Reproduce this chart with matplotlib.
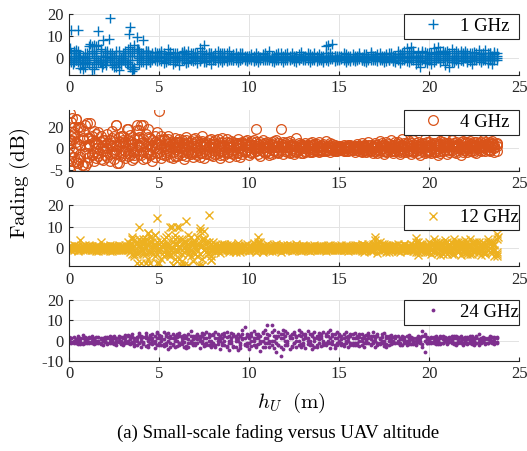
import matplotlib.pyplot as plt

plt.rcParams['font.family'] = ['Liberation Serif', 'DejaVu Serif']
plt.rcParams['mathtext.fontset'] = 'cm'

# altitude samples (m), 8 per metre
altitude = [
    0.0, 0.12, 0.25, 0.38, 0.5, 0.62, 0.75, 0.88,
    1.0, 1.12, 1.25, 1.38, 1.5, 1.62, 1.75, 1.88,
    2.0, 2.12, 2.25, 2.38, 2.5, 2.62, 2.75, 2.88,
    3.0, 3.12, 3.25, 3.38, 3.5, 3.62, 3.75, 3.88,
    4.0, 4.12, 4.25, 4.38, 4.5, 4.62, 4.75, 4.88,
    5.0, 5.12, 5.25, 5.38, 5.5, 5.62, 5.75, 5.88,
    6.0, 6.12, 6.25, 6.38, 6.5, 6.62, 6.75, 6.88,
    7.0, 7.12, 7.25, 7.38, 7.5, 7.62, 7.75, 7.88,
    8.0, 8.12, 8.25, 8.38, 8.5, 8.62, 8.75, 8.88,
    9.0, 9.12, 9.25, 9.38, 9.5, 9.62, 9.75, 9.88,
    10.0, 10.12, 10.25, 10.38, 10.5, 10.62, 10.75, 10.88,
    11.0, 11.12, 11.25, 11.38, 11.5, 11.62, 11.75, 11.88,
    12.0, 12.12, 12.25, 12.38, 12.5, 12.62, 12.75, 12.88,
    13.0, 13.12, 13.25, 13.38, 13.5, 13.62, 13.75, 13.88,
    14.0, 14.12, 14.25, 14.38, 14.5, 14.62, 14.75, 14.88,
    15.0, 15.12, 15.25, 15.38, 15.5, 15.62, 15.75, 15.88,
    16.0, 16.12, 16.25, 16.38, 16.5, 16.62, 16.75, 16.88,
    17.0, 17.12, 17.25, 17.38, 17.5, 17.62, 17.75, 17.88,
    18.0, 18.12, 18.25, 18.38, 18.5, 18.62, 18.75, 18.88,
    19.0, 19.12, 19.25, 19.38, 19.5, 19.62, 19.75, 19.88,
    20.0, 20.12, 20.25, 20.38, 20.5, 20.62, 20.75, 20.88,
    21.0, 21.12, 21.25, 21.38, 21.5, 21.62, 21.75, 21.88,
    22.0, 22.12, 22.25, 22.38, 22.5, 22.62, 22.75, 22.88,
    23.0, 23.12, 23.25, 23.38, 23.5, 23.62, 23.75,
]

# 1 GHz (four passes over the same altitudes)
fad_1ghz_a = [
    -2, 12.7, 1, 3.6, 12.7, -4.5, -2, 0,
    2, 5.5, -7.7, 6, -3, 12.3, 3, 8.2,
    0.5, 3, 18, -2, -3, -4, -5.5, 0,
    -1, 1, 4, 14.2, -6.2, 6, 9.7, -3,
    2, 8.2, -3, 3, -2, 1, 2.5, -1.5,
    0.5, 3, -2.5, 1, 4, -1, -3, 2,
    0, -3.5, 2.5, 1, -2, 3, -1, 0.5,
    2, -2.5, 4.5, 1, 6, -1.5, 2, -3,
    1, -1, 3, 0, -2, 2, -1.5, 3,
    -1, 1.5, 0, -2, 2, -0.5, 1, -1.5,
    1, -1, 0.5, 2, -2, 0, 1.5, -1,
    0, 3, -1.5, 1, -1, 2, 0.5, -2,
    1.5, -1, 0, 2, -1.5, 1, -0.5, 2.5,
    -1, 0.5, 2, -2, 1, 0, -1.5, 1.5,
    0.5, -2, 2, 6, 1, 6.3, -1.5, 1,
    -1, 0.5, 2, -2, 1, -0.5, 1.5, -1.5,
    0, 2, -1, 1, -2, 0.5, 2.5, -1,
    1, -1.5, 2, 0, -2, 1.5, -0.5, 2,
    -1.5, 1, 3, -2.5, 0.5, 2, 4.5, -2,
    5, 1, -3, 2.5, -4, 3, 0, -2.5,
    2, -3, 4.5, 1, 5, -2, 3, -3.5,
    1, -4, 4, -1, 3, -2.5, 2, 0,
    3, -2, 1, -3, 2.5, -1, 3.5, -2,
    1, 3.5, -2.5, 2, -3, 1.5, -1,
]
fad_1ghz_b = [
    0, -2, 2, -1, 1, -3, 0.5, -2.5,
    -1, 0, -4, 2, 5.5, -2, 1, -3,
    -1, 2, 0, -3.5, 1, -2, 3, -3,
    2, -1, -3, 1, 3, -5, 4, 0,
    -2, 1, 3, -1, 0, 2, -1, 1,
    -1, 2, 0, -2, 1.5, 2.5, -1, 0.5,
    2, -1, 0, 3, -2.5, 1, 2, -1.5,
    -1, 1, 0, 3, -2, 1.5, -1, 2,
    0, 2, -2, 1, 0.5, -1, 2, 0,
    1, -1, 2, 0.5, -1, 1.5, 0, -1,
    0, 1.5, -1.5, 0.5, 1, -1, 0, 2,
    -1, 1, 0, -2, 1.5, -0.5, 2, 0,
    0, 2, -1, 0.5, 1, -2, 1.5, 0,
    1, -1, 0, 1.5, -0.5, 2, 0.5, -1,
    -1, 1, 0.5, -1.5, 2, 0, 1, -1,
    1, 0, -1, 1.5, 0, -1.5, 0.5, 1,
    -1, 1, 0.5, -1.5, 1.5, 0, -1, 1,
    0, 1.5, -1, 1, 0.5, -1.5, 2, 0,
    1, -2, 0, 1.5, -1, 3, 0.5, 2,
    -1, 3, 0.5, -2, 1, -1, 2.5, 1,
    -1, 1.5, -2, 2.5, 0, 3, -1, 1.5,
    3, 0, -2, 2, -1, 1, 3, -1.5,
    0, 2, -1.5, 1, 0, 2, -1, 1.5,
    -1, 0, 2, -1, 1, 2.5, 0,
]
fad_1ghz_c = [
    1, -1, 0, 2, -2, 1, -3, 2,
    -2, 1, 3, -1, 0, 6, -2, 1,
    3, -1, 2, 0, -4, 1, -2, -3,
    0, 3, -2, 5, -4, 2, -1, 3,
    1, -2, 0, 2, 1, -1, 0, 2,
    1, -1.5, 2, 0, -1, 1, 2, -2,
    -1, 1, 2, -1, 1.5, -2, 0, 2,
    1, 0, -1.5, 2, 0, -2, 1, 0,
    -1, 0.5, 1, -1, 2, 0, -1, 1,
    0, -1, 1, 0, -1, 2, 0.5, 1,
    -0.5, 0, 1, -1, 1, 0.5, -1, 0,
    1, -1, 0.5, 0, -0.5, 1, -1, 0.5,
    -1, 0.5, 1, -0.5, 0, 1, -1, 0,
    0, 1, -1, 0.5, 0, -1, 1, 0,
    1, 0, -1, 1, 0, -0.5, 1, 0,
    -0.5, 1, 0, -1, 0.5, 1, -1, 0,
    1, -0.5, 0, 1.5, -1, 0, 1, -0.5,
    -1, 0.5, 1, -1, 0, 1, -1, 0.5,
    0, 1, -1, 0.5, 2, -1, 1, 0,
    2, -1, 1, 0, -1.5, 1, -2, 2,
    0, 2, -1, 0, 1.5, -1, 0, 2.5,
    -1, 2, 0, -2, 1, 0, -1, 2,
    1, 0, 2, -1, 1, 0, 1, 0,
    2, -1, 0, 1, -1, 0, 2,
]
fad_1ghz_d = [
    -1, 2, -2, 0, 3, -1, 1, -4,
    0, -3, 2, -2, 1, -1, 4, -1,
    -2, 1, -1, 2, 0, 3, 1, -1,
    1, -2, 2, -1, 1, -4, 3, 1,
    0, 2, -1, 1, -2, 0, 1, 0,
    2, 0, 1, -1, 0, 2, 1, -1,
    1, 0, -1, 2, 0, 1, -1, 1,
    0, 2, -1, 0, 1, 0, 2, 1,
    1, -1, 0, 2, -1, 1, 0, -1,
    0, 1, -1, 1, 0.5, 0, -1, 0,
    1, 0.5, -1, 0, 0.5, -0.5, 1, 0.5,
    0.5, 0, 1, -0.5, 1, -1, 0, 1,
    0.5, 0, -0.5, 1, 0.5, 0, 0, 1,
    -0.5, 0, 1, 0, -1, 0.5, 0, -0.5,
    0, -1, 1, 0, -0.5, 1, 0, 0.5,
    0.5, -0.5, 1, 0, -1, 0.5, 0, -0.5,
    0, 1, -1, 0, 0.5, -1, 1.5, 0,
    1, 0, -0.5, 0, 1, 0, -1, 1,
    -1, 0, 1.5, -1, 1, 0, -1.5, 1,
    0, 2, -1, 1, 0, 2, -1, 0,
    1, -1, 2, -1, 1, 0, 2, -1,
    0, 1, -1, 1, 0, 2, -1, 1,
    2, -1, 0, 2, -1, 0, 2, -1,
    0, 1, -1, 2, 0, -1, 1,
]
alt_1ghz_extra = [0.06, 0.2, 0.3, 0.4, 0.55, 0.7, 0.8, 1.1, 1.15, 1.3, 1.4, 1.5,
                  1.7, 1.85, 2.05, 2.2, 2.3, 2.7, 3.1, 3.2, 3.32, 3.4, 3.55, 3.85,
                  3.9, 4.3, 14.3]
fad_1ghz_extra = [4.4, -3, 3, -1, 1, -2, -5, -3, 6.5, 5.5, -5, 2,
                  -2, -4, -3.5, 8.5, 0, -2, 2, -3, 10.8, -4, -5, 4,
                  0, 3, 5.5]

# 4 GHz
fad_4ghz_a = [
    -18, 25, 10, 28, -10, 18, -15, 22,
    24, -8, 12, -12, 5, 15, -10, 8,
    -6, 14, -12, 10, -3, 22, -14, 6,
    12, -9, 18, 3, -11, 9, 17, -5,
    22, -10, 14, -4, 10, -12, 6, 15,
    35, -9, 8, -3, 12, -8, 5, 10,
    -7, 9, 2, -10, 11, -4, 7, -8,
    10, -6, 4, 12, -9, 6, -2, 9,
    -7, 8, 1, -9, 10, -3, 6, -8,
    7, -5, 3, 9, -8, 5, -2, 8,
    -6, 7, 0, 18, -5, 6, 8, -4,
    6, -6, 4, 7, -3, 5, 18, -5,
    5, -3, 7, 2, -5, 10, 0, 4,
    -4, 5, 2, -3, 6, -1, 4, -3,
    3, -2, 7, 1, -3, 4, 0, -2,
    2, -1, 3, 0, -2, 3, 1, -3,
    4, -2, 5, 0, -3, 6, 1, -4,
    5, -4, 7, 2, -5, 6, -1, 8,
    -4, 6, 1, -5, 9, 2, -3, 7,
    -5, 8, 0, 6, -6, 3, 9, -3,
    6, -4, 11, 2, -6, 7, -2, 9,
    -5, 5, 8, -3, 6, 1, -6, 7,
    4, -3, 7, 0, 6, -4, 5, 2,
    8, -2, 5, 1, 7, -3, 4,
]
fad_4ghz_b = [
    5, -12, 15, 0, 20, -5, 8, -16,
    -4, 10, -6, 16, 0, -7, 12, -2,
    8, -8, 4, 16, -10, 2, 11, -7,
    -4, 6, -7, 13, 0, -9, 4, 11,
    -6, 6, -9, 18, -1, 3, -8, 0,
    4, 12, -6, 7, -1, 2, -9, 6,
    3, -5, 8, 0, -7, 5, -3, 9,
    -3, 7, -8, 2, 5, -5, 8, 0,
    4, -5, 9, -2, 3, -6, 9, 1,
    -4, 3, -7, 5, 0, -5, 7, -1,
    3, -3, 8, -2, 4, -7, 1, 5,
    -2, 3, -5, 1, 8, -3, 2, 6,
    -2, 6, -4, 3, 0, -2, 5, -4,
    3, -2, 0, 5, -3, 3, -2, 6,
    -1, 4, -2, 2, 5, -1, 3, 1,
    0, 2, -2, 1, 3, -1, 0, 2,
    -1, 2, -3, 3, 1, -2, 3, 0,
    -2, 3, -1, 5, 0, -3, 4, 1,
    3, -2, 6, -1, 3, -3, 5, 0,
    2, -3, 5, -1, 4, 0, -4, 6,
    -1, 4, -3, 5, 0, -2, 6, 2,
    3, -1, 2, 5, -2, 4, 0, -3,
    -1, 6, 2, -2, 3, 1, -1, 6,
    1, 4, -1, 6, 2, 0, 5,
]
fad_4ghz_c = [
    0, 12, -8, 6, -14, 3, 16, -4,
    10, 2, -5, 6, -9, 4, 1, -11,
    3, 0, 8, -4, 6, -1, 2, 12,
    5, -2, 8, -6, 6, -3, -1, 3,
    2, 9, -3, 4, -6, 8, 1, -4,
    -3, 2, 9, -6, 4, 6, -3, 1,
    6, 0, -3, 5, -1, 2, -5, 4,
    2, -2, 6, -4, 1, 3, -5, 4,
    1, 4, -4, 5, -1, 2, -3, 5,
    2, -1, 5, -3, 3, -2, 4, 1,
    1, 3, -3, 2, 0, 3, -2, 1,
    2, 0, 3, -2, 1, 2, -1, 3,
    1, -1, 3, -1, 2, -3, 3, 1,
    0, 2, -1, 1, 3, -1, 1, 2,
    1, 0, -1, 2, 0, 1, -1, 0,
    1, 0, -1, 2, 0, 1, -1, 0,
    1, 0, 2, -1, 1, 0, -1, 2,
    1, -1, 2, 0, 3, -2, 1, 3,
    0, 3, -2, 2, 0, 5, 1, -1,
    3, 1, -2, 2, 0, 5, 2, -1,
    2, 0, 3, -3, 2, 4, 1, -1,
    1, 3, -1, 2, 0, 3, 2, 0,
    2, 0, 4, 1, -1, 3, 0, 3,
    3, 1, 2, -1, 4, 1, 2,
]
fad_4ghz_d = [
    -5, 8, 20, -12, 4, -8, 10, 2,
    -14, 4, 8, -3, 14, -4, 6, 2,
    -2, 5, -5, 2, 12, -4, 6, -3,
    8, 2, -4, 7, 4, -6, 10, 1,
    5, -3, 2, 11, -5, 1, 12, 4,
    8, -5, 2, 0, 9, -4, 3, -7,
    1, 6, -6, 3, 8, -2, 3, -4,
    6, 0, -4, 7, -2, 4, 2, -6,
    6, -2, 3, -6, 6, 1, -4, 3,
    -2, 6, 1, -4, 3, 6, -3, 4,
    5, -4, 3, 6, -1, 1, 4, -3,
    4, -4, 6, -1, 2, -4, 4, 1,
    3, 1, -3, 4, -2, 2, -1, 2,
    2, -3, 3, 1, -2, 4, -1, 1,
    -2, 2, 1, -1, 3, 0, -2, 2,
    -1, 1, 0, -2, 1, 2, -1, 1,
    2, 1, -2, 2, -1, 3, -2, 1,
    3, 1, -3, 3, -2, 2, 0, -2,
    -2, 1, 4, -3, 2, -1, 3, -2,
    5, -2, 3, -4, 1, -2, 4, 2,
    -3, 2, 5, -1, 4, -4, 3, 5,
    5, -3, 4, 1, -4, 2, 6, -1,
    6, 2, -2, 4, -3, 6, 2, -2,
    -1, 6, 3, -2, 5, 3, -2,
]
alt_4ghz_extra = [0.03, 0.05, 0.08, 0.15, 0.2, 0.3, 0.4, 0.45, 0.6, 0.7,
                  1.17, 2.6, 2.65, 3.2, 3.8, 3.9, 4.1]
fad_4ghz_extra = [8, 33, -20, 28.5, -3, 14, 28, -14, 20, -15,
                  24, 22, -14, 18, 22, 17, 22]

# 12 GHz
fad_12ghz_a = [
    0.5, -1, 1.5, 0, -1.5, 3.7, 1, -0.5,
    0, 1.5, -1, 0.5, -1.5, 1, 3, -1,
    1, -0.5, 1.5, -1.5, 0, 1, -1, 0.5,
    -1, 1.5, 3, -2, 5, -4, 2, 9.9,
    -7, 4, -3, 7, -7, 1, 6, 13.8,
    -7, 3, -4, 5, -2, 10, -8, 4,
    10, -5, 2, -8, 12.5, -3, 5, -6,
    3, -4, 9.5, -8, 8, 2, 15.3, -5.5,
    3, -2, 1, -2.5, 2, -1, 1.5, -2,
    2, -1.5, 0.5, 2.5, -2, 1, -1, 2,
    -1.5, 1, 2.5, -2, 5.3, 1, -2, 0.5,
    2, -1.5, 1, -1, 2, 0, -2, 1.5,
    -1, 1.5, 0, -1.5, 1, 2, -1, 0,
    1.5, -1, 0.5, -1.5, 1, 0, -1, 1,
    -0.5, 1, -1.5, 1.5, 0, -1, 1, -0.5,
    1, -1, 0.5, 1.5, -1.5, 0, 1, -1,
    1.5, -1, 2, -2, 1, 0, -1.5, 2,
    5, -2.5, 3, -1, 2, -2, 1, -1.5,
    1.5, -1, 2, -2, 0.5, 1.5, -1.5, 1,
    2, -1.5, 4.5, -3.5, 2, -1, 1, -2,
    3, -3, 4, -2, 2.5, -3.5, 1, 3.5,
    -3, 2, -2, 4, -1, 3, -3.5, 2,
    3.5, -2, 4, -3, 2, -1.5, 3, -3.5,
    2.5, -3, 4, -2, 3, -4, 6.4,
]
fad_12ghz_b = [
    -0.5, 1, -1, 0.5, 1, -0.5, -1, 1.5,
    1, -0.5, 0, -1, 1, -1.5, 0.5, 1,
    -1, 0.5, -1.5, 1, 0.5, -1, 1.5, -0.5,
    0.5, -1, 0, 1, -3, 3.5, -2, 4,
    3, -3, 2, -5, 5, -2, -4, 3,
    2, -5, 4, -1, 6, -3, 3, -5,
    -2, 4, -6, 3, -1, 6, -4, 2,
    -3, 5, 1, -5, 4, -2, 3, -4,
    -1, 1.5, -1.5, 1, -1, 2, -1, 1,
    -1, 1, -2, 1, 0, -1, 1.5, -0.5,
    1, -1, 0, 1.5, -1, 3, -1, 1,
    -1, 0.5, -1.5, 1.5, -1, 1, 0.5, -1,
    1, -1, 1.5, 0.5, -1, 0, 1, -1.5,
    -1, 1, -0.5, 0.5, -1, 1.5, 0.5, -1,
    1, -1, 0.5, -0.5, 1.5, 0, -1, 1,
    -1, 1.5, -0.5, -1, 1, 0.5, -1, 1.5,
    -1, 1, -1.5, 1.5, -1, 2, 0, -1.5,
    3.5, 1, -1.5, 2, -1, 1.5, -2, 1,
    -1, 1.5, -1.5, 1, -1, 2, 0, -1,
    -1, 1.5, -2, 3, -1, 2, -2, 1,
    -2, 1.5, -1, 3, -2.5, 2, -3, 2.5,
    3, -1, 2.5, -3, 2, -2, 3, -1,
    -2.5, 1, -3, 2.5, -1, 3, -2, 1.5,
    -2, 2, -1, 3, -2.5, 1.5, -2,
]
fad_12ghz_c = [
    0, 0.5, -0.5, 1, 0, -1, 0.5, 0,
    -0.5, 0, 1, -0.5, 0.5, 0, -1, 0.5,
    0, 1, 0, -0.5, 1, 0, -0.5, 1,
    0, -0.5, 1, 0, 2, -1, 3, -2,
    1, -1, 4, 2, -2, 3, 1, -3,
    -1, 1, -2, 2, 1, -4, 0, 2,
    2, 0, 4, -2, 1, 2, -1, 3,
    1, -1, 2, 4, -1, 0, -2, 2,
    1, 0, -1, 1.5, 0, 1, -0.5, 0,
    0, 1, -1, 0, 1, 0.5, -1, 0,
    0.5, 0, -1, 1, 2, -1, 1, -0.5,
    0, 1, -0.5, 0, 1, -1, 0.5, 0,
    0, -0.5, 1, 0, 0.5, -1, 0, 1,
    0, 0.5, -1, 1, 0, 0.5, 0, -0.5,
    0.5, 0, 1, -1, 0, 0.5, 0, -1,
    0, 0.5, -1, 0, 0.5, 1, 0, -0.5,
    0.5, 0, 1, -0.5, 0, 1, -1, 0.5,
    1, 2.5, 0, -1, 1, 0, 1, 0,
    0, 1, 0, -0.5, 1, 0, -1, 1,
    0.5, -0.5, 1, 0, 1, 0, -1, 1.5,
    1, -1, 2, 0, 1, -1, 2, -1,
    1, -2, 0, 2, 1, -1, 2, -2,
    1, -1, 2, 0, -2, 1, -1, 2,
    0, 1, -1, 2, 1, -1, -3,
]
fad_12ghz_d = [
    1, -1, 0, 0.5, -1, 0, 1, -1,
    0.5, 1, -0.5, 0, -1, 1, 0, -0.5,
    0.5, -1, 0, 1, -1, 0.5, 0, -1,
    1, 0, -1, 2, 0, 1, -3, 1,
    -1, 2, 0, -2, 3, 0, 2, -1,
    0, 3, 1, -3, 2, 0, -2, 6,
    -1, 1, -3, 0, 3, -1, 2, -2,
    0, 2, -3, 1, -1, 3, 0, -1,
    0, -1, 1, 0, -1, 1, 0, -1,
    1, 0, -1, 1, -1, 0, 1, 0,
    -1, 0.5, 1, 0, 3, 0, -1, 1,
    0.5, -1, 1, 0, -1, 0.5, 1, 0,
    -1, 0.5, 0, 1, -1, 0.5, 1, 0,
    1, 0, -1, 0.5, 0, -1, 1, 0,
    -1, 0, 0.5, 1, -1, 0, 0.5, 0,
    1, 0, -1, 0.5, 0, -1, 0.5, 0,
    -0.5, 1, 0, -1, 1, 0, 0.5, -1,
    2, 0, 1, -1, 0, 1, 0, -1,
    1, 0, -1, 1, 0, -1, 1, 0,
    -1, 0, 3, -2, 0, 1, 0, -1,
    0, 2, -2, 1, 0, 3, -1, 0,
    -1, 1, -3, 0, 3, -2, 1, 0,
    2, -3, 1, -1, 3, 0, -2, 1,
    1, -2, 3, 0, -1, 2, 4,
]
alt_12ghz_extra = [3.5, 3.6, 3.8, 4.1, 4.3, 4.4, 4.8, 4.9, 5.2, 5.5, 5.7, 5.8,
                   6.1, 6.2, 6.4, 6.6, 6.9, 7.2, 7.25, 7.5, 7.7, 7.9, 23.8, 23.85]
fad_12ghz_extra = [4, -3, -7, 3, -7, 7, 6, -7, 2, -3, 10, -8,
                   10, -8, 3, -8, -2, -8, 8, 4, -3, -5.5, -4, 5]

# 24 GHz
fad_24ghz_a = [
    0.5, -1, 1.5, -0.5, 1, -1.5, 2.5, 0,
    -1, 1, 0, -1.5, 1.5, -0.5, 0.5, -2,
    1, -1, 2, 0, -1.5, 1, -0.5, 1.5,
    -2, 2.5, 0, -1.5, 3, -2.5, 1, 2,
    -3, 1.5, 3.5, -2, 0.5, 3, -3.5, 1,
    2.5, -2, 4, -1, 1.5, -3, 3, 0,
    -2.5, 3.5, 1, -3, 2, -1, 4.5, -2,
    1, 3, -3.5, 2, -1.5, 4, 0, -3,
    2.5, -2, 1, -4, 3, 0, -3, 2,
    3.5, -2.5, 1, -4.5, 2, 5, -1.5, 3,
    -4, 2, 4.5, -3, 1, -5, 3.5, -1,
    7.5, -3, 7.5, 2, -5.5, 4, -7.5, 5,
    -2, 3.5, -4, 1, 4, -3, 2.5, -1.5,
    3, -3.5, 4.5, -1, 2, -3, 1, 3.5,
    -2.5, 4, -1, 2, -3.5, 3, 1, -2,
    3, -2, 1, 4, -3, 2, -1, 3.5,
    -2, 1.5, 3, -3, 0.5, 2.5, -1.5, 4,
    -3, 2, -1, 3, -2.5, 1, 2, -1.5,
    1.5, -1, 2, -2, 0.5, 1.5, -1, 2.5,
    -1.5, 1, -2, 2, 0, 4.5, -5.5, 1.5,
    -1, 1.5, 0, -1.5, 1, -1, 2, 0,
    -1.5, 1, 0.5, -1, 2, -0.5, 1, -2,
    1.5, -1, 0, 2, -1.5, 1, 3, -1,
    1, -1.5, 0.5, 2, -1, 0, 1.5,
]
fad_24ghz_b = [
    -1, 1, -0.5, 0.5, -1.5, 1, -1, 1.5,
    1, -0.5, 2, 0.5, -1, 0, -1.5, 1,
    -0.5, 1.5, -1, 0.5, 2, -2, 0, -1,
    1.5, -1, 2, 0.5, -1, 1, -2, 3.5,
    2, -1, -2.5, 1, 2.5, -1.5, 0, 3.5,
    -1, 1, -2.5, 2, -4, 1, -1.5, 2,
    1.5, -1, 0, 2.5, -3.5, 0.5, -1, 2,
    -2, 0.5, 2, -1, 3, -2, 1.5, 2.5,
    -1, 4, -1.5, 1, -2, 3.5, 1.5, -4.5,
    0, 2, -3, 3, -1, 0.5, 6.5, -2.5,
    1, -2.5, 0, 3, -1.5, 2, -3, 5,
    -1, 2.5, 0, -3.5, 1, -2, 3, -4,
    4.5, 0, 2, -2.5, -1, 1.5, 5, -3,
    0.5, 2, -1.5, 0, -4, 4, -2, 0.5,
    2, -1, 3, 0, 5, -1.5, -3.5, 4,
    -1, 0.5, -2.5, 1.5, 0, -2, 3, -1,
    2, -2.5, 0, 1, -1, 3.5, 0.5, -1,
    1, -2, 0.5, -1, 3.5, -1.5, 0, 1,
    -1, 2, -0.5, 1, -2, 0, 2, -1.5,
    0.5, -1.5, 1, -0.5, 1.5, -3, 2, -1,
    1, -0.5, 1.5, 0.5, -1.5, 2, -1, 0.5,
    0, 1.5, -1, 2, -2, 0.5, -1, 1,
    -1, 0.5, 2, -1.5, 0, 1.5, -2, 0.5,
    -0.5, 1, -1, 0.5, 1.5, -1.5, 1,
]
fad_24ghz_c = [
    0, 1, -1, 0.5, 0, -0.5, 1, -1,
    0.5, -1, 1, 0, -0.5, 1.5, -1, 0,
    0, 1, -0.5, 1.5, -1, 0, 1, -1.5,
    1, 0, -1, 2, -0.5, 0, 1.5, -1,
    0, -1.5, 2, 0, -1, 1, 2, -2,
    1, 0, -1.5, 3, 0, 2, -2, 1,
    0, 2, -1.5, 1, -2.5, 3, 0, -1,
    2, -1, 1, 0, -2.5, 1, 3, -1.5,
    -2, 1, 3, 0, -1, 2, -2.5, 0,
    1, -3, 2, 0, -2, 3, 1, -1,
    2.5, 0, -2, 1, 3, -1, 0, -3,
    1, -1, 4, 0, 2, -2, 1, 3,
    0, -2, 2, 3, -1, 0, -2, 2,
    -1, 1, 0, 3, -2, 1, -3, 2,
    1, -2, 2, -1, 1, 0, 3, -1,
    0, 2, -1.5, 0, 2, -1, 1, -2,
    1, 0, -2, 2, 0, -1, 2, 0,
    2, -1, 1, 0, -1, 2, -2, 0,
    0, 1, -1, 0.5, 1, -1, 0, 1,
    1, -0.5, 0, 1, -1, 2, 0, -1,
    0, -1, 1, -0.5, 0.5, 1, -1, 0,
    1, -0.5, 0, 1, -1, 1.5, 0, -1,
    0, 1.5, -1, 0, 1, -1, 0.5, 1,
    0, 0.5, -1, 1, 0, 1, -0.5,
]
fad_24ghz_d = [
    1.5, -0.5, 0, -1, 2, 0.5, -1.5, 0.5,
    -0.5, 1.5, -1, 1, 0, -1, 1, 0.5,
    1.5, -1.5, 0.5, -1, 1, -0.5, 2, 0,
    -1, 1, 2.5, -1, 1.5, -1.5, 0, 2.5,
    1, -0.5, 1, -3, 2, 0, -1, 4,
    -2, 2, 0.5, -2, 3.5, -1, 1, -3,
    3, -2, 2, -0.5, 1, -3, 2, 0.5,
    -1, 2, 0, 3.5, 1, -1, -2, 0,
    3, -3, 0, 2, 1, -2, 4, -1,
    -1, 3, 0, 1, -3.5, 1, -2, 2,
    -1, 3.5, 1, -2, 2, 0, 4, 1,
    3, 0, -2, 5, -1, 2, -3, 1,
    2, -1, 1, -3, 3, 2, 0, 4,
    -2, 3, 1, -2, 3, 0, 2, -1,
    3, 0, -2, 4, -1, 2, -2, 1,
    2, -1, 3, -1, 1, 3, -2, 1,
    -1, 3, 1, -1, 2.5, 1, -2, 2,
    0, 3, -1.5, 1.5, 0, -3, 1, 2.5,
    -0.5, 1.5, 0, -1, 2, 0.5, -2, 0,
    1.5, 0, -1.5, 0, 1, -1.5, 3, 0.5,
    -0.5, 1, -1, 2, 0, -1.5, 0.5, 1.5,
    -1, 0.5, 2, -1.5, 1, -1, 2, 0.5,
    1, -1.5, 0.5, 1, -2, 2, -0.5, 0,
    1.5, -1, 1, -0.5, 0, 1.5, -1,
]

labels = ['1 GHz', '4 GHz', '12 GHz', '24 GHz']
colors = ['#0072BD', '#D95319', '#EDB120', '#7E2F8E']
ylims = [(-7.8, 20), (-21, 36), (-8.5, 20), (-10, 20)]
yticks = [[0, 10, 20], [-20, 0, 20], [0, 10, 20], [-10, 0, 10, 20]]
yticklabels = [['0', '10', '20'], ['-5', '0', '20'], ['0', '10', '20'], ['-10', '0', '10', '20']]

passes = [
    [fad_1ghz_a, fad_1ghz_b, fad_1ghz_c, fad_1ghz_d],
    [fad_4ghz_a, fad_4ghz_b, fad_4ghz_c, fad_4ghz_d],
    [fad_12ghz_a, fad_12ghz_b, fad_12ghz_c, fad_12ghz_d],
    [fad_24ghz_a, fad_24ghz_b, fad_24ghz_c, fad_24ghz_d],
]
extras = [
    (alt_1ghz_extra, fad_1ghz_extra),
    (alt_4ghz_extra, fad_4ghz_extra),
    (alt_12ghz_extra, fad_12ghz_extra),
    ([], []),
]
styles = [
    dict(marker='+', markersize=7.5, markeredgewidth=1.0),
    dict(marker='o', markersize=7, markeredgewidth=0.9, markerfacecolor='none'),
    dict(marker='x', markersize=5.5, markeredgewidth=1.0),
    dict(marker='.', markersize=5.5, markeredgewidth=0),
]

fig = plt.figure(figsize=(5.27, 4.51), dpi=100)
bottoms = [0.834, 0.621, 0.410, 0.200]

for i in range(4):
    ax = fig.add_axes([0.131, bottoms[i], 0.854, 0.135])
    st = styles[i]
    line = None
    for ys in passes[i]:
        l, = ax.plot(altitude, ys, linestyle='none', color=colors[i], **st)
        if line is None:
            line = l
    hx, yx = extras[i]
    if hx:
        ax.plot(hx, yx, linestyle='none', color=colors[i], **st)
    line.set_label(labels[i])

    ax.set_xlim(0, 25)
    ax.set_xticks([0, 5, 10, 15, 20, 25])
    ax.set_ylim(*ylims[i])
    ax.set_yticks(yticks[i], labels=yticklabels[i])
    ax.grid(True, color='#e3e3e3', linewidth=0.7)
    ax.set_axisbelow(True)
    for s in ['top', 'right']:
        ax.spines[s].set_visible(False)
    for s in ['left', 'bottom']:
        ax.spines[s].set_color('#262626')
        ax.spines[s].set_linewidth(0.8)
    ax.tick_params(direction='in', length=3, labelsize=12, colors='#262626',
                   labelcolor='#262626', pad=4)

    leg = ax.legend(handles=[line], loc='upper left', bbox_to_anchor=(0.744, 1.0, 0.256, 0),
                    mode='expand', borderaxespad=0, fontsize=13.5, fancybox=False,
                    framealpha=1, edgecolor='#262626', borderpad=0.2,
                    handlelength=2.7, handletextpad=0.1, numpoints=1)
    leg.get_frame().set_linewidth(0.8)

fig.text(0.038, 1 - 183 / 451, r'$\mathrm{Fading\ (dB)}$', rotation=90,
         ha='center', va='center', fontsize=15)
fig.text(291 / 527, 1 - 403 / 451, r'$h_U\ \ (\mathrm{m})$', ha='center', va='center',
         fontsize=15)
fig.text(278 / 527, 1 - 433 / 451, '(a) Small-scale fading versus UAV altitude',
         ha='center', va='center', fontsize=13.5)

fig.savefig('out.png', dpi=100)
